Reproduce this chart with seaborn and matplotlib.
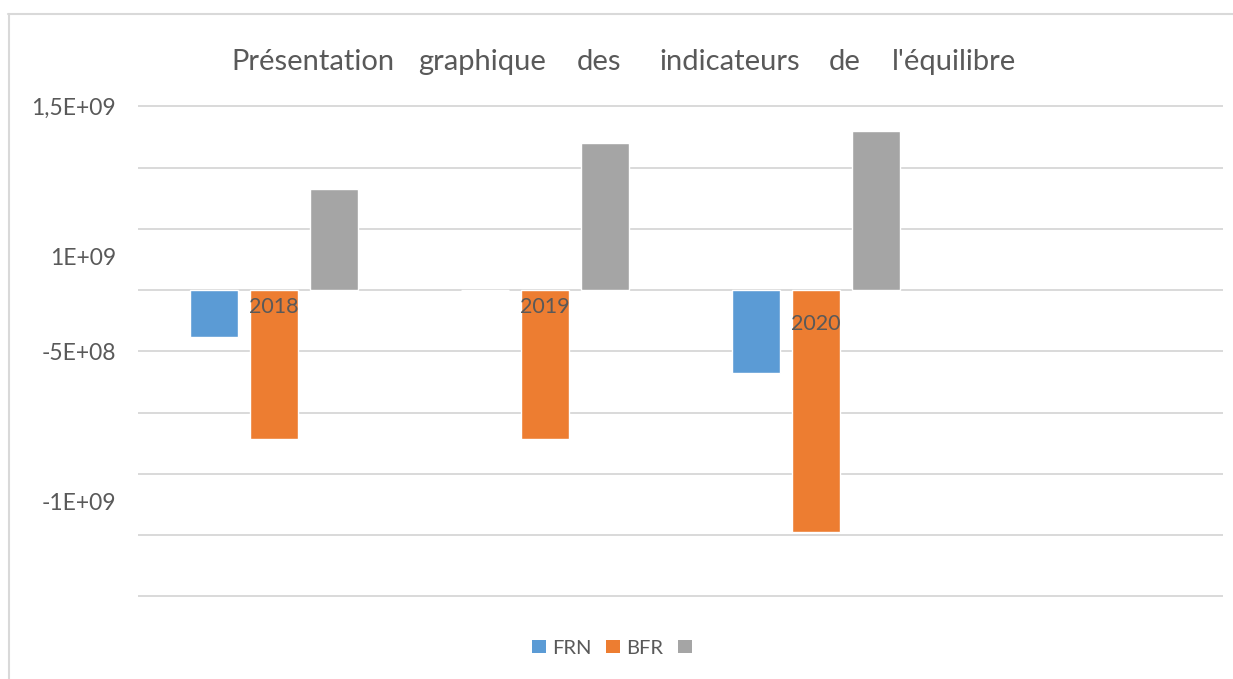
import numpy as np
import pandas as pd
import matplotlib
matplotlib.use("Agg")
import matplotlib.pyplot as plt
from matplotlib.patches import Patch
from matplotlib.lines import Line2D
import seaborn as sns

# ---- data ----
years = ["2018", "2019", "2020"]
frn = [-1.9e8, -2e6, -3.38e8]
bfr = [-6.1e8, -6.1e8, -9.87e8]
third = [4.12e8, 6.0e8, 6.49e8]
series_names = ["FRN", "BFR", " "]
title_words = ["Présentation", "graphique", "des", "indicateurs", "de", "l'équilibre"]
ytick_pos = [7.5e8, 1.35e8, -2.5e8, -8.65e8]
ytick_labels = ["1,5E+09", "1E+09", "-5E+08", "-1E+09"]
grid_vals = [7.5e8, 5e8, 2.5e8, 0, -2.5e8, -5e8, -7.5e8, -1e9, -1.25e9]

colors = ["#5B9BD5", "#ED7D31", "#A5A5A5"]
text_color = "#595959"
grid_color = "#D9D9D9"

df = pd.DataFrame({
    "year": years * 3,
    "serie": [series_names[0]] * 3 + [series_names[1]] * 3 + [series_names[2]] * 3,
    "value": frn + bfr + third,
})

sns.set_theme(style="white")
plt.rcParams["font.family"] = ["Lato", "DejaVu Sans"]

W, H = 1233, 679
fig = plt.figure(figsize=(W / 100, H / 100), dpi=100)
fig.patch.set_facecolor("white")

# axes geometry in pixels
ax_left, ax_right = 138, 1223
ax_top, ax_bottom = 100, 602
ax = fig.add_axes([ax_left / W, 1 - ax_bottom / H, (ax_right - ax_left) / W, (ax_bottom - ax_top) / H])

px = 2.5e8 / 61.25  # value per pixel
zero_px = 290
ax.set_ylim(-(ax_bottom - zero_px) * px, (zero_px - ax_top) * px)

sns.barplot(data=df, x="year", y="value", hue="serie", order=years,
            hue_order=series_names, palette=colors, width=180 / 271, gap=0.2,
            saturation=1, ax=ax, legend=False, errorbar=None)
ax.set_xlim(-0.5, 3.5)

for g in grid_vals:
    ax.axhline(g, color=grid_color, lw=1.4, zorder=0)

for s in ax.spines.values():
    s.set_visible(False)

ax.set_yticks(ytick_pos)
ax.set_yticklabels(ytick_labels, color=text_color, fontsize=16.5)
ax.tick_params(axis="y", length=0, pad=16)
ax.set_xticks([])
ax.set_xlabel("")
ax.set_ylabel("")

# category labels next to the zero axis (pixel offsets below the axis)
label_offsets = [7, 7, 24]
for i, (y, off) in enumerate(zip(years, label_offsets)):
    ax.text(i, -off * px, y, ha="center", va="top", fontsize=15.5, color=text_color,
            transform=ax.transData, zorder=5)

# title words
title_centers = [312.5, 482.5, 598.5, 729.5, 845, 953.5]
for w, cx in zip(title_words, title_centers):
    fig.text(cx / W, 1 - 62 / H, w, ha="center", va="center", fontsize=21, color=text_color)

# legend
handles = [Patch(facecolor=c, edgecolor="none") for c in colors]
fig.legend(handles, ["FRN", "BFR", ""], loc="center", bbox_to_anchor=(615 / W, 1 - 648 / H),
           ncol=3, frameon=False, fontsize=14.5, handlelength=0.68, handleheight=0.68,
           handletextpad=0.3, columnspacing=0.75, labelcolor=text_color)

# outer border
fig.add_artist(Line2D([8.5 / W, 8.5 / W], [0, 1 - 14 / H], color=grid_color, lw=1.5))
fig.add_artist(Line2D([8 / W, 1], [1 - 14 / H, 1 - 14 / H], color=grid_color, lw=1.5))

fig.savefig("out.png", dpi=100)
